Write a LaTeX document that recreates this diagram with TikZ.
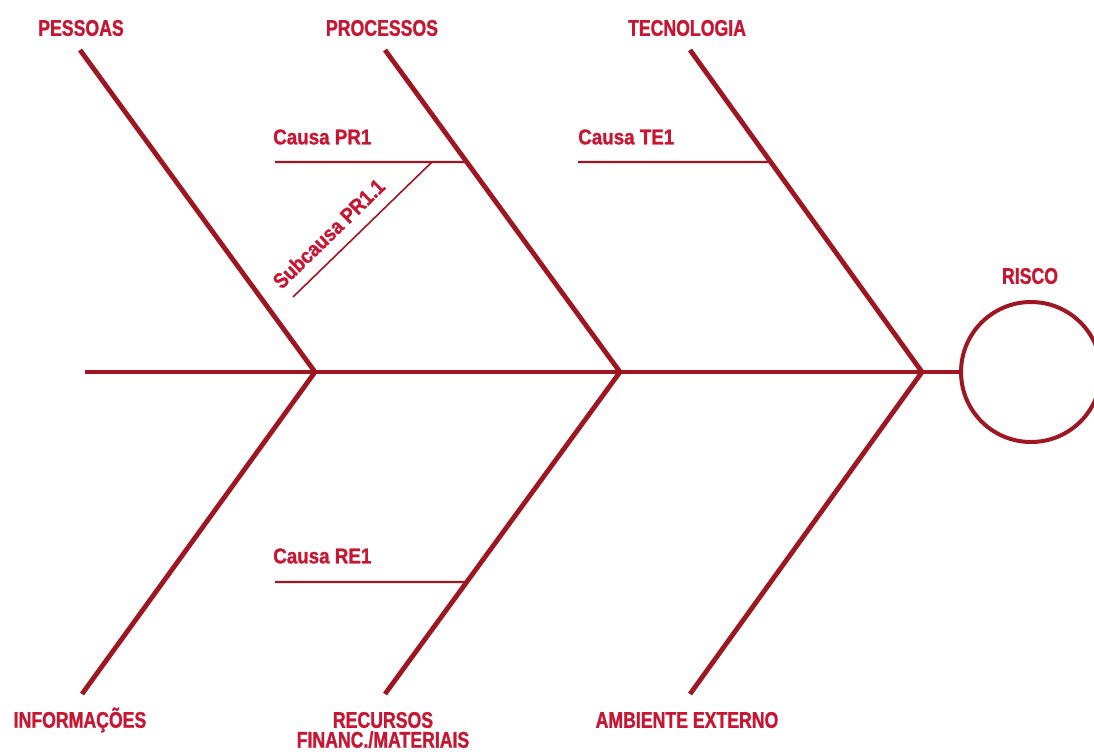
\documentclass[tikz,border=0pt]{standalone}
\usepackage{fontspec}
\setmainfont{Liberation Sans}[FakeStretch=0.78, FakeBold=1.2]
\newfontfamily\causefont{Liberation Sans}[FakeStretch=0.88, FakeBold=1.2]
\usepackage{xcolor}
\usetikzlibrary{positioning,calc}
\definecolor{riskText}{RGB}{200,22,50}
\definecolor{riskLine}{RGB}{158,22,34}
\begin{document}
\begin{tikzpicture}[x=0.75pt,y=-0.75pt,
		Category/.style={text=riskText, font=\bfseries\fontsize{17}{17}\selectfont, align=center, inner sep=0pt},
		Cause/.style={text=riskText, font=\causefont\bfseries\fontsize{16}{16}\selectfont, inner sep=0pt},
		Bone/.style={draw=riskLine, line width=3.6pt},
		Rib/.style={draw=riskLine, line width=1.6pt},
		SubRib/.style={draw=riskLine, line width=1.2pt}]
	\useasboundingbox (0,0) rectangle (1094,753);
	% spine and head
	\coordinate (tail) at (85,372);
	\coordinate (jA) at (315,372);
	\coordinate (jB) at (620,372);
	\coordinate (jC) at (922,372);
	\node[draw=riskLine, line width=3pt, circle, minimum size=140*0.75pt, inner sep=0pt] (risco) at (1031,372) {};
	\node[Category] (riscoLbl) at (1030,276) {RISCO};
	\draw[Bone] (tail) -- (jA) -- (jB) -- (jC) -- (risco.west);
	% upper bones
	\coordinate (tPes) at (80,50);
	\coordinate (tPro) at (385,50);
	\coordinate (tTec) at (690,50);
	\draw[Bone] (tPes) -- (jA);
	\draw[Bone] (tPro) -- (jB);
	\draw[Bone] (tTec) -- (jC);
	\node[Category] (pessoas) at (81,28) {PESSOAS};
	\node[Category] (processos) at (382,28) {PROCESSOS};
	\node[Category] (tecnologia) at (687,28) {TECNOLOGIA};
	% lower bones
	\coordinate (tInf) at (82,694);
	\coordinate (tRec) at (385,694);
	\coordinate (tAmb) at (690,694);
	\draw[Bone] (jA) -- (tInf);
	\draw[Bone] (jB) -- (tRec);
	\draw[Bone] (jC) -- (tAmb);
	\node[Category] (informacoes) at (80,720) {INFORMAÇÕES};
	\node[Category] (recursos) at (383,720) {RECURSOS};
	\node[Category, below=2pt of recursos] (financ) {FINANC./MATERIAIS};
	\node[Category] (ambiente) at (687,720) {AMBIENTE EXTERNO};
	% causes
	\coordinate (pr1L) at (275,162);
	\coordinate (pr1R) at ($(tPro)!{(162-50)/322}!(jB)$);
	\draw[Rib] (pr1L) -- (pr1R);
	\node[Cause, anchor=west] (pr1) at (273,137) {Causa PR1};
	\coordinate (sub1T) at (432,162);
	\coordinate (sub1B) at (293,297);
	\draw[SubRib] (sub1B) -- (sub1T) node[Cause, pos=0.36, sloped, above=9pt] (sub1) {Subcausa PR1.1};
	\coordinate (te1L) at (578,162);
	\coordinate (te1R) at ($(tTec)!{(162-50)/322}!(jC)$);
	\draw[Rib] (te1L) -- (te1R);
	\node[Cause, anchor=west] (te1) at (578,137) {Causa TE1};
	\coordinate (re1L) at (275,582);
	\coordinate (re1R) at ($(jB)!{(582-372)/322}!(tRec)$);
	\draw[Rib] (re1L) -- (re1R);
	\node[Cause, anchor=west] (re1) at (273,556) {Causa RE1};
\end{tikzpicture}
\end{document}
